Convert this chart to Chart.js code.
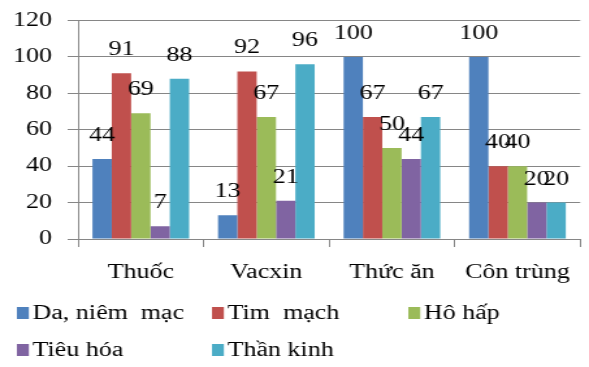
<!DOCTYPE html>
<html>
<head>
<meta charset="utf-8">
<script src="https://cdn.jsdelivr.net/npm/chart.js@4"></script>
<style>
  html, body { margin: 0; padding: 0; background: #fff; overflow: hidden; }
  /* the original picture is stretched sideways, so draw narrower and widen it */
  #wrap { width: 453px; height: 367px; transform: scaleX(1.30022); transform-origin: 0 0; }
</style>
</head>
<body>
<div id="wrap"><canvas id="chart" width="453" height="367"></canvas></div>
<script>
// categories and series
const categories = ['Thuốc', 'Vacxin', 'Thức ăn', 'Côn trùng'];
const seriesNames = ['Da, niêm  mạc', 'Tim  mạch', 'Hô hấp', 'Tiêu hóa', 'Thần kinh'];
const daNiemMac = [44, 13, 100, 100];
const timMach = [91, 92, 67, 40];
const hoHap = [69, 67, 50, 40];
const tieuHoa = [7, 21, 44, 20];
const thanKinh = [88, 96, 67, 20];
const yTicks = [0, 20, 40, 60, 80, 100, 120];

const colors = ['#4F81BD', '#C0504D', '#9BBB59', '#8064A2', '#4BACC6'];
const allSeries = [daNiemMac, timMach, hoHap, tieuHoa, thanKinh];
const FONT = "'Liberation Serif', 'Times New Roman', serif";

// value labels above each bar
const valueLabels = {
    id: 'valueLabels',
    afterDatasetsDraw(chart) {
        const ctx = chart.ctx;
        ctx.save();
        ctx.font = '20px ' + FONT;
        ctx.fillStyle = '#000';
        ctx.textAlign = 'center';
        ctx.textBaseline = 'alphabetic';
        chart.data.datasets.forEach((ds, i) => {
            const meta = chart.getDatasetMeta(i);
            meta.data.forEach((bar, j) => {
                ctx.fillText(String(ds.data[j]), bar.x, bar.y - 18);
            });
        });
        ctx.restore();
    }
};

// legend laid out in a grid like the original
const gridLegend = {
    id: 'gridLegend',
    afterDraw(chart) {
        const ctx = chart.ctx;
        const cols = [13, 163, 314];
        const rows = [313, 350];
        ctx.save();
        ctx.font = '20px ' + FONT;
        ctx.textBaseline = 'middle';
        ctx.textAlign = 'left';
        chart.data.datasets.forEach((ds, i) => {
            const x = cols[i % 3];
            const y = rows[Math.floor(i / 3)];
            ctx.fillStyle = ds.backgroundColor;
            ctx.fillRect(x, y - 6, 9.2, 12);
            ctx.fillStyle = '#000';
            ctx.fillText(ds.label, x + 12, y + 1);
        });
        ctx.restore();
    }
};

const chart = new Chart(document.getElementById('chart'), {
    type: 'bar',
    data: {
        labels: categories,
        datasets: seriesNames.map((name, i) => ({
            label: name,
            data: allSeries[i],
            backgroundColor: colors[i],
            borderWidth: 0,
            categoryPercentage: 0.77,
            barPercentage: 1
        }))
    },
    options: {
        responsive: false,
        animation: false,
        layout: { padding: { top: 0, right: 6, bottom: 0, left: 0 } },
        plugins: {
            legend: { display: false },
            tooltip: { enabled: false }
        },
        scales: {
            x: {
                grid: {
                    offset: true,
                    drawOnChartArea: false,
                    drawTicks: true,
                    tickLength: 8,
                    color: '#868686'
                },
                border: { color: '#868686' },
                ticks: {
                    padding: 14,
                    color: '#000',
                    font: { family: FONT, size: 20 }
                },
                afterFit: (scale) => { scale.height = 128; }
            },
            y: {
                min: 0,
                max: 120,
                afterBuildTicks: (scale) => { scale.ticks = yTicks.map(v => ({ value: v })); },
                grid: {
                    color: '#868686',
                    tickLength: 8
                },
                border: { color: '#868686' },
                ticks: {
                    padding: 12,
                    color: '#000',
                    font: { family: FONT, size: 20, lineHeight: 0.85 }
                },
                afterFit: (scale) => { scale.width = 60; }
            }
        }
    },
    plugins: [valueLabels, gridLegend]
});
</script>
</body>
</html>
